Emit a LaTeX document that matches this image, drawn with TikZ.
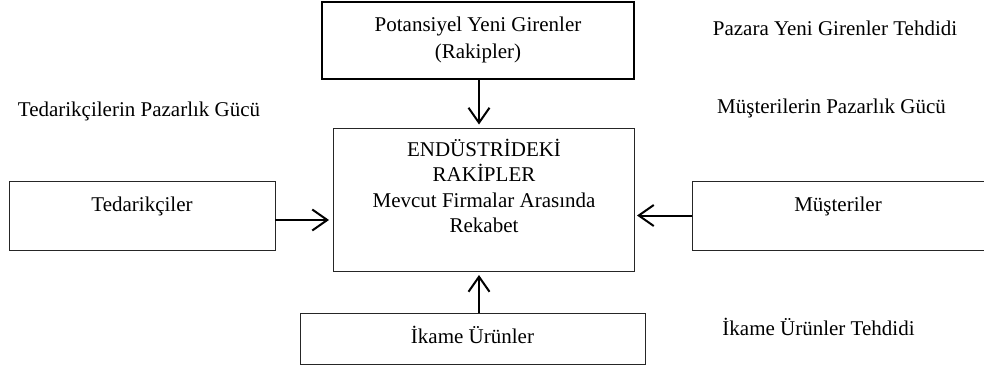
\documentclass[tikz,border=0pt]{standalone}
\usepackage{fontspec}
\setmainfont{Liberation Serif}
\usetikzlibrary{arrows.meta,calc}
\begin{document}
\begin{tikzpicture}[x=1pt,y=1pt,
  boxnode/.style={draw=black!85,line width=1pt,inner sep=0pt,outer sep=0pt},
  txt/.style={inner sep=0pt,outer sep=0pt,anchor=base,font=\fontsize{21}{25}\selectfont},
  arr/.style={line width=2pt,-{Straight Barb[length=15pt,width=21pt,line width=2pt]}}]
\useasboundingbox (0,0) rectangle (984,373);
% boxes
\node[boxnode,line width=1.8pt,draw=black,minimum width=312pt,minimum height=77pt] (top) at (478,332.5) {};
\node[boxnode,minimum width=301pt,minimum height=143pt] (center) at (483.5,173.5) {};
\node[boxnode,minimum width=266pt,minimum height=69pt] (tedar) at (142,157.5) {};
\node[boxnode,minimum width=293pt,minimum height=69pt] (must) at (838.5,157.5) {};
\node[boxnode,minimum width=345pt,minimum height=51pt] (ikame) at (472.5,34.5) {};
% box texts
\node[txt] (t1) at (478,341) {Potansiyel Yeni Girenler};
\node[txt] (t2) at (478,314) {(Rakipler)};
\node[txt] (c1) at (484,217) {ENDÜSTRİDEKİ};
\node[txt] (c2) at (484,192) {RAKİPLER};
\node[txt] (c3) at (484,166) {Mevcut Firmalar Arasında};
\node[txt] (c4) at (484,141) {Rekabet};
\node[txt] (td) at (142,162) {Tedarikçiler};
\node[txt] (ms) at (838,162) {Müşteriler};
\node[txt] (ik) at (472.5,30) {İkame Ürünler};
% labels
\node[txt] (l1) at (139,257) {Tedarikçilerin Pazarlık Gücü};
\node[txt] (l2) at (835,337) {Pazara Yeni Girenler Tehdidi};
\node[txt] (l3) at (831.5,260) {Müşterilerin Pazarlık Gücü};
\node[txt] (l4) at (818.5,38) {İkame Ürünler Tehdidi};
% arrows
\draw[arr,shorten >=3.5pt] ([xshift=1pt]top.south) -- ([xshift=1pt]top.south |- center.north);
\draw[arr,shorten >=4pt] ([xshift=6.5pt]ikame.north) -- ([xshift=6.5pt]ikame.north |- center.south);
\draw[arr,shorten >=4pt] ([yshift=-4.5pt]tedar.east) -- ([yshift=-4.5pt]tedar.east -| center.west);
\draw[arr,shorten >=3pt] (must.west) -- (must.west -| center.east);
\end{tikzpicture}
\end{document}
